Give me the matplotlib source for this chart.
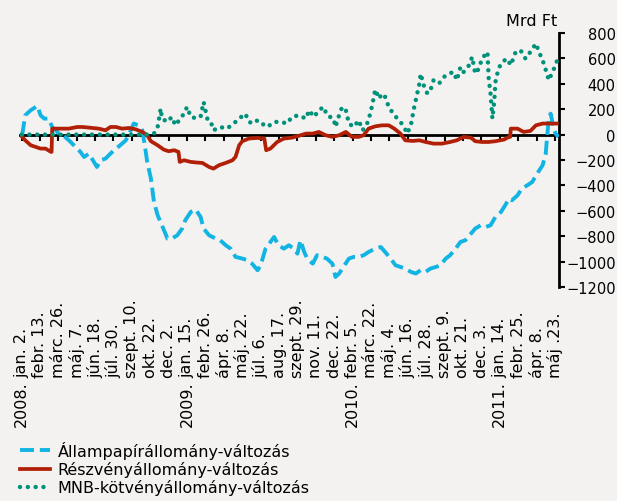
import matplotlib
matplotlib.use("Agg")
import matplotlib.pyplot as plt
from matplotlib.lines import Line2D
import matplotlib.transforms as mtransforms

# x = business-day index from 2008-01-02 (a label every 30 days)
date_labels = ["jan. 2.", "febr. 13.", "márc. 26.", "máj. 7.", "jún. 18.", "júl. 30.",
               "szept. 10.", "okt. 22.", "dec. 2.", "jan. 15.", "febr. 26.", "ápr. 8.",
               "máj. 22.", "júl. 6.", "aug. 17.", "szept. 29.", "nov. 11.", "dec. 22.",
               "febr. 5.", "márc. 22.", "máj. 4.", "jún. 16.", "júl. 28.", "szept. 9.",
               "okt. 21.", "dec. 3.", "jan. 14.", "febr. 25.", "ápr. 8.", "máj .23."]
year_labels = {0: "2008.", 9: "2009.", 18: "2010.", 26: "2011."}
label_step = 30

# Állampapírállomány-változás (Mrd Ft)
gov_x = [1, 6, 15, 26, 31, 37, 44, 50, 61, 71, 80, 88, 96, 102, 110, 118, 123, 129, 137, 145,
         154, 161, 170, 177, 183, 191, 197, 201, 205, 211, 216, 222, 229, 238, 245, 254, 262,
         267, 276, 284, 292, 297, 306, 317, 324, 333, 341, 349, 360, 369, 376, 385, 390, 398,
         406, 412, 419, 428, 436, 444, 450, 455, 461, 466, 475, 482, 491, 498, 507, 512, 518,
         525, 534, 542, 550, 558, 566, 577, 586, 593, 602, 610, 618, 626, 635, 643, 651, 659,
         667, 676, 683, 692, 699, 708, 716, 724, 733, 740, 749, 757, 765, 773, 782, 789, 795,
         800, 809, 816, 825, 833, 841, 850, 855, 857, 860, 863, 867, 871, 876]
gov_y = [-5, 152, 192, 226, 152, 126, 126, 60, 8, -18, -58, -97, -136, -176, -150, -215, -255,
         -202, -189, -150, -110, -84, -45, 21, 87, 73, 34, -84, -215, -346, -530, -635, -714,
         -819, -819, -793, -740, -675, -609, -590, -648, -740, -793, -819, -832, -871, -898,
         -963, -976, -990, -1016, -1068, -1029, -898, -845, -806, -871, -898, -871, -898, -937,
         -832, -924, -976, -1016, -950, -963, -976, -1016, -1121, -1094, -1042, -976, -963,
         -963, -950, -924, -898, -885, -924, -976, -1029, -1042, -1055, -1081, -1094, -1068,
         -1081, -1055, -1042, -1029, -976, -950, -898, -845, -832, -780, -740, -714, -727,
         -714, -648, -609, -556, -504, -517, -478, -425, -399, -373, -307, -241, -150, -31,
         126, 165, 73, 8, -18]

# Részvényállomány-változás (Mrd Ft)
stock_x = [1, 6, 15, 23, 31, 39, 48, 49, 50, 61, 77, 91, 99, 110, 126, 137, 145, 154, 164, 175,
           186, 197, 205, 211, 222, 232, 240, 249, 256, 258, 265, 276, 286, 295, 306, 313, 322,
           333, 344, 349, 355, 360, 371, 385, 396, 399, 406, 417, 428, 441, 452, 464, 475, 485,
           496, 507, 518, 529, 539, 550, 558, 566, 577, 588, 599, 608, 618, 626, 638, 649, 659,
           672, 686, 699, 710, 721, 733, 740, 751, 762, 773, 787, 795, 797, 798, 809, 819, 830,
           839, 850, 860, 873]
stock_y = [-18, -45, -84, -97, -110, -110, -136, -136, 47, 47, 47, 60, 60, 55, 47, 34, 60, 60,
           47, 52, 42, 21, -5, -52, -84, -118, -131, -123, -136, -215, -202, -215, -220, -223,
           -255, -268, -241, -223, -202, -176, -84, -52, -31, -26, -31, -123, -110, -58, -31,
           -24, -10, 8, 8, 21, -5, -18, -5, 21, -18, -18, -5, 47, 65, 73, 73, 47, 8, -45, -50,
           -45, -58, -71, -71, -58, -45, -18, -24, -52, -58, -58, -52, -39, -18, -18, 47, 47,
           21, 29, 73, 87, 87, 87]

# MNB-kötvényállomány-változás (Mrd Ft)
mnb_x = [0, 205, 208, 216, 222, 227, 229, 238, 245, 251, 259, 265, 270, 276, 284, 292, 297,
         303, 308, 313, 324, 335, 346, 355, 365, 371, 378, 385, 392, 401, 412, 423, 433, 441,
         452, 464, 469, 477, 485, 493, 498, 509, 512, 518, 523, 529, 534, 542, 550, 556, 561,
         566, 572, 577, 583, 588, 593, 599, 608, 616, 624, 629, 635, 640, 643, 649, 651, 656,
         662, 667, 672, 681, 689, 697, 705, 710, 716, 721, 730, 735, 740, 746, 751, 760, 762,
         765, 768, 771, 773, 778, 784, 792, 798, 806, 814, 822, 830, 839, 844, 850, 857, 860,
         866, 871, 876]
mnb_y = [0, 0, 0, 8, 60, 205, 126, 100, 139, 73, 126, 165, 218, 139, 130, 139, 257, 126, 113,
         34, 60, 47, 87, 126, 165, 100, 87, 113, 87, 60, 100, 100, 87, 139, 152, 126, 192, 139,
         192, 218, 152, 126, 60, 152, 218, 192, 87, 60, 113, 34, 60, 113, 231, 355, 283, 323,
         297, 218, 152, 113, 60, 8, 73, 205, 270, 402, 480, 388, 323, 349, 428, 402, 454, 480,
         493, 428, 533, 493, 546, 612, 480, 520, 598, 651, 441, 323, 126, 257, 415, 520, 572,
         598, 546, 651, 664, 598, 651, 717, 651, 585, 480, 428, 493, 546, 625]

c_gov = "#12b4e4"
c_stock = "#b11f06"
c_mnb = "#00917b"
bg = "#f4f2f0"
mnb_style = (0, (0.01, 1.75))

fig = plt.figure(figsize=(6.17, 5.02), dpi=100, facecolor=bg)
ax = fig.add_axes([20 / 617, 214 / 502, 538.6 / 617, 254 / 502], facecolor=bg)

ax.plot(gov_x, gov_y, color=c_gov, lw=2.8, dashes=(3.6, 1.5), zorder=3)
ax.plot(stock_x, stock_y, color=c_stock, lw=2.7, zorder=4, solid_joinstyle="round")
ax.plot(mnb_x, mnb_y, color=c_mnb, lw=3.2, linestyle=mnb_style,
        dash_capstyle="round", zorder=5)

ax.set_xlim(-2.5, 876)
ax.set_ylim(-1200, 800)

for s in ["top", "left"]:
    ax.spines[s].set_visible(False)
ax.spines["bottom"].set_position(("data", 0))
ax.spines["bottom"].set_linewidth(2)
ax.spines["bottom"].set_zorder(2)
ax.spines["right"].set_linewidth(2)

ax.set_xticks([i * label_step for i in range(len(date_labels))])
ax.tick_params(axis="x", direction="out", length=4, width=1.5, labelbottom=False)

ax.yaxis.tick_right()
ax.set_yticks(range(-1200, 801, 200))
ax.tick_params(axis="y", direction="out", length=4, width=1.5, labelsize=10.5, pad=37)
for lab in ax.get_yticklabels():
    lab.set_horizontalalignment("right")

trans = mtransforms.blended_transform_factory(ax.transData, ax.transAxes)
for i, lab in enumerate(date_labels):
    ax.text(i * label_step, -0.354, lab, rotation=90, ha="center", va="bottom",
            fontsize=11.5, transform=trans, clip_on=False)
for i, lab in year_labels.items():
    ax.text(i * label_step, -0.547, lab, rotation=90, ha="center", va="bottom",
            fontsize=11.5, transform=trans, clip_on=False)

fig.text(557 / 617, 1 - 22 / 502, "Mrd Ft", ha="right", va="center", fontsize=11.5)

handles = [
    Line2D([], [], color=c_gov, lw=2.8, dashes=(3.6, 1.5)),
    Line2D([], [], color=c_stock, lw=2.7),
    Line2D([], [], color=c_mnb, lw=3.2, linestyle=mnb_style, dash_capstyle="round"),
]
fig.legend(handles, ["Állampapírállomány-változás", "Részvényállomány-változás",
                     "MNB-kötvényállomány-változás"],
           loc="upper left", bbox_to_anchor=(20 / 617, 1 - 442 / 502), frameon=False,
           fontsize=11.5, handlelength=1.9, handletextpad=0.45, labelspacing=0.14,
           borderpad=0, borderaxespad=0)

fig.savefig("out.png", dpi=100, facecolor=bg)
